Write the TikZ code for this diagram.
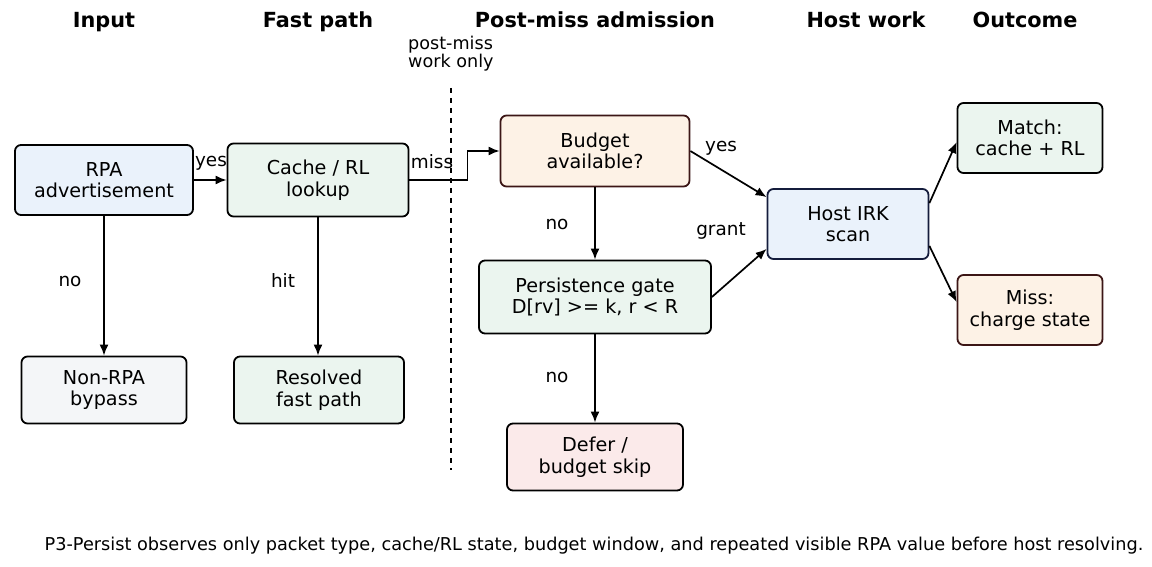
\documentclass[tikz,border=0pt]{standalone}
\usepackage{fontspec}
\setmainfont{DejaVu Sans}
\usetikzlibrary{arrows.meta,calc}
\definecolor{fblue}{RGB}{234,242,251}
\definecolor{fgreen}{RGB}{235,245,239}
\definecolor{forange}{RGB}{253,242,230}
\definecolor{fgray}{RGB}{244,246,248}
\definecolor{fpink}{RGB}{251,234,234}
\definecolor{bbrown}{RGB}{60,22,22}
\definecolor{bnavy}{RGB}{20,28,60}
\tikzset{
  box/.style={draw=black, rounded corners=6pt, line width=1.8pt, align=center,
    inner sep=0pt, font=\fontsize{19.2}{21.5}\selectfont},
  ttl/.style={anchor=base, font=\bfseries\fontsize{20.8}{24}\selectfont},
  lbl/.style={font=\fontsize{18.4}{21}\selectfont, inner sep=0pt},
  arr/.style={-{Latex[length=11pt,width=9pt]}, line width=1.7pt, draw=black},
}
\begin{document}
\begin{tikzpicture}[x=1pt,y=-1pt]
\useasboundingbox (0,0) rectangle (1152,567);
% titles
\node[ttl] (t1) at (104,28) {Input};
\node[ttl] (t2) at (318,28) {Fast path};
\node[ttl] (t3) at (595,28) {Post-miss admission};
\node[ttl] (t4) at (866,28) {Host work};
\node[ttl] (t5) at (1025,28) {Outcome};
% separator
\draw[line width=1.6pt, dash pattern=on 5pt off 5pt] (451,88) -- (451,470);
\node[anchor=west, align=left, inner sep=0pt, font=\fontsize{17.6}{17}\selectfont] (pm) at (408,54) {post-miss\\work only};
% boxes
\node[box, fill=fblue, minimum width=178pt, minimum height=70pt] (rpa) at (104,180) {RPA\\advertisement};
\node[box, fill=fgreen, minimum width=181pt, minimum height=73pt] (cache) at (318,180) {Cache / RL\\lookup};
\node[box, fill=forange, draw=bbrown, minimum width=189pt, minimum height=71pt] (budget) at (595,151) {Budget\\available?};
\node[box, fill=fblue, draw=bnavy, minimum width=161pt, minimum height=70pt] (host) at (848,224) {Host IRK\\scan};
\node[box, fill=fgreen, minimum width=145pt, minimum height=70pt] (match) at (1030,138) {Match:\\cache + RL};
\node[box, fill=forange, draw=bbrown, minimum width=145pt, minimum height=70pt] (miss) at (1030,310) {Miss:\\charge state};
\node[box, fill=fgreen, minimum width=232pt, minimum height=73pt] (pers) at (595,297) {Persistence gate\\D[rv] >= k, r < R};
\node[box, fill=fgray, minimum width=165pt, minimum height=67pt] (nonrpa) at (104,390) {Non-RPA\\bypass};
\node[box, fill=fgreen, minimum width=170pt, minimum height=67pt] (resolved) at (319,390) {Resolved\\fast path};
\node[box, fill=fpink, minimum width=176pt, minimum height=67pt] (defer) at (595,457) {Defer /\\budget skip};
% connectors
\draw[arr] (rpa.east) -- (cache.west);
\draw[arr] (cache.east) -- ++(58,0) |- (budget.west);
\draw[arr] (rpa.south) -- (nonrpa.north);
\draw[arr] (cache.south) -- (resolved.north -| cache.south);
\draw[arr] (budget.south) -- (pers.north);
\draw[arr] (pers.south) -- (defer.north);
\draw[arr] (budget.east) -- ([yshift=-9pt]host.north west);
\draw[arr] (pers.east) -- ([yshift=11pt]host.south west);
\draw[arr] ([yshift=-15pt]host.north east) -- ([yshift=-40pt]match.north west);
\draw[arr] ([yshift=14pt]host.south east) -- ([yshift=-28pt]miss.north west);
% labels
\node[lbl] (l1) at (211,163) {yes};
\node[lbl] (l2) at (432,162) {miss};
\node[lbl] (l3) at (70,281) {no};
\node[lbl] (l4) at (283,281) {hit};
\node[lbl] (l5) at (721,148) {yes};
\node[lbl] (l6) at (557,224) {no};
\node[lbl] (l7) at (721,231) {grant};
\node[lbl] (l8) at (557,377) {no};
% caption
\node[font=\fontsize{17.7}{20}\selectfont, inner sep=0pt] (cap) at (594,546) {P3-Persist observes only packet type, cache/RL state, budget window, and repeated visible RPA value before host resolving.};
\end{tikzpicture}
\end{document}
